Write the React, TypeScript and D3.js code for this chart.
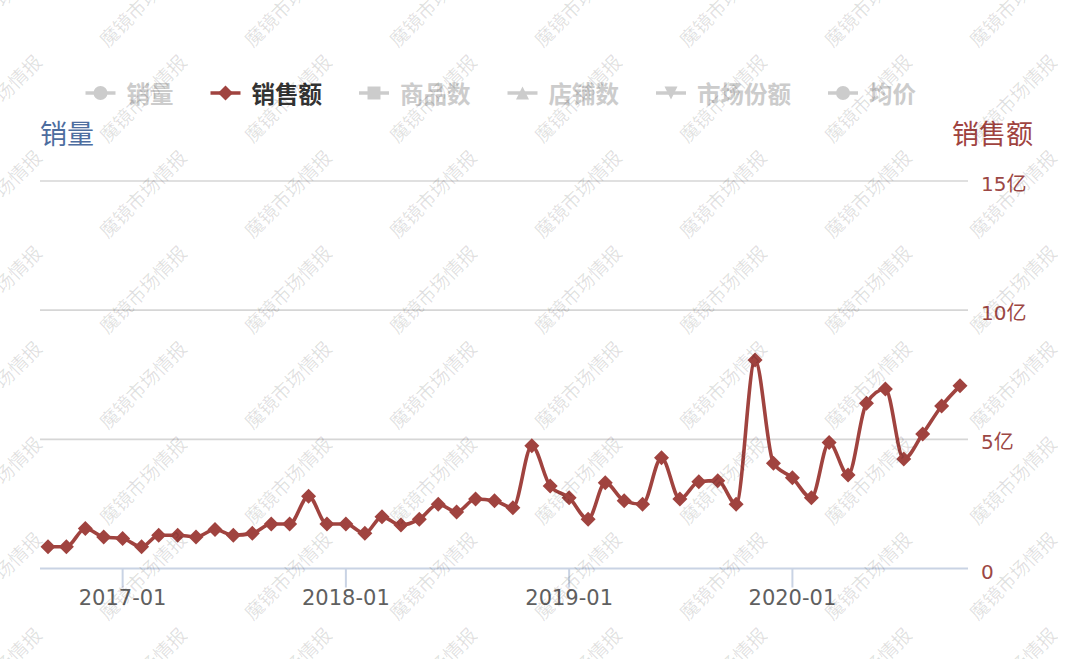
import React from "react";
import * as d3 from "d3";

const months: string[] = [
  "2016-09","2016-10","2016-11","2016-12",
  "2017-01","2017-02","2017-03","2017-04","2017-05","2017-06","2017-07","2017-08","2017-09","2017-10","2017-11","2017-12",
  "2018-01","2018-02","2018-03","2018-04","2018-05","2018-06","2018-07","2018-08","2018-09","2018-10","2018-11","2018-12",
  "2019-01","2019-02","2019-03","2019-04","2019-05","2019-06","2019-07","2019-08","2019-09","2019-10","2019-11","2019-12",
  "2020-01","2020-02","2020-03","2020-04","2020-05","2020-06","2020-07","2020-08","2020-09","2020-10",
];

// 销售额 (亿)
const salesAmount: number[] = [
  0.84, 0.84, 1.55, 1.22,
  1.16, 0.84, 1.29, 1.29, 1.22, 1.51, 1.29, 1.36, 1.72, 1.72, 2.80, 1.72,
  1.72, 1.36, 2.00, 1.68, 1.91, 2.49, 2.19, 2.69, 2.62, 2.35, 4.75, 3.19,
  2.74, 1.91, 3.32, 2.62, 2.49, 4.29, 2.69, 3.36, 3.40, 2.49, 8.07, 4.07,
  3.51, 2.74, 4.88, 3.62, 6.40, 6.95, 4.24, 5.21, 6.29, 7.07,
];

const yTicks: number[] = [0, 5, 10, 15];
const yTickLabels: string[] = ["0", "5亿", "10亿", "15亿"];
const xTickLabels: string[] = ["2017-01", "2018-01", "2019-01", "2020-01"];

const legendNames: string[] = ["销量", "销售额", "商品数", "店铺数", "市场份额", "均价"];
const legendSymbols: string[] = ["circle", "diamond", "square", "triangle", "triangle-down", "circle"];
const legendActive: boolean[] = [false, true, false, false, false, false];

const watermarkText = "魔镜市场情报";

const W = 1080;
const H = 659;
const RED = "#a0433f";
const CJK = "'Noto Sans CJK SC', 'Noto Sans', sans-serif";
const NUM = "'DejaVu Sans', 'Noto Sans CJK SC', sans-serif";

export default function App() {
  const parse = d3.timeParse("%Y-%m");
  const dates = months.map((m) => parse(m) as Date);
  const x = d3
    .scaleTime()
    .domain([dates[0], dates[dates.length - 1]])
    .range([48, 960]);
  const y = d3.scaleLinear().domain([0, 15]).range([568.5, 181]);

  const pts: [number, number][] = dates.map((d, i) => [x(d), y(salesAmount[i])]);
  const line = d3
    .line<[number, number]>()
    .x((p) => p[0])
    .y((p) => p[1])
    .curve(d3.curveMonotoneX);

  const gridLeft = 40;
  const gridRight = 968;

  const diamond = (cx: number, cy: number, r: number) =>
    `M${cx},${cy - r}L${cx + r},${cy}L${cx},${cy + r}L${cx - r},${cy}Z`;

  const symbolPath = (type: string, cx: number, cy: number) => {
    const r = 6.5;
    switch (type) {
      case "diamond":
        return diamond(cx, cy, 7.5);
      case "square":
        return `M${cx - r},${cy - r}h${2 * r}v${2 * r}h${-2 * r}Z`;
      case "triangle":
        return `M${cx},${cy - r}L${cx + r},${cy + r}L${cx - r},${cy + r}Z`;
      case "triangle-down":
        return `M${cx - r},${cy - r}L${cx + r},${cy - r}L${cx},${cy + r}Z`;
      default:
        return d3.arc()({ innerRadius: 0, outerRadius: 7, startAngle: 0, endAngle: 2 * Math.PI }) as string;
    }
  };

  // Legend layout derived from text widths
  const legendY = 93;
  const fontLegend = 23.5;
  let cursor = 85.5;
  const legendItems = legendNames.map((name, i) => {
    const iconX = cursor;
    const textX = iconX + 30 + 11;
    const textW = name.length * fontLegend;
    cursor = textX + textW + 37;
    return { name, iconX, textX, sym: legendSymbols[i], active: legendActive[i] };
  });

  const xTickDates = xTickLabels.map((s) => parse(s) as Date);

  const wmCols = d3.range(-1, 7).map((k) => 142 + 145 * k);
  const wmRows = d3.range(0, 8).map((k) => 2 + 95.5 * k);

  return (
    <div style={{ position: "absolute", left: 0, top: 0 }}>
      <svg width={W} height={H} style={{ display: "block", background: "#fff" }}>
        <rect x={0} y={0} width={W} height={H} fill="#fff" />

        {/* grid lines */}
        {yTicks.slice(1).map((t) => (
          <line key={t} x1={gridLeft} x2={gridRight} y1={y(t)} y2={y(t)} stroke="#d6d6d6" strokeWidth={1.6} />
        ))}
        {/* x axis line */}
        <line x1={gridLeft} x2={gridRight} y1={y(0)} y2={y(0)} stroke="#c9d3e4" strokeWidth={2} />

        {/* x ticks */}
        {xTickDates.map((d, i) => (
          <g key={i}>
            <line x1={x(d)} x2={x(d)} y1={y(0)} y2={y(0) + 19} stroke="#c9d3e4" strokeWidth={2} />
            <text x={x(d)} y={605} textAnchor="middle" fontFamily={NUM} fontSize={21} fill="#606060">
              {xTickLabels[i]}
            </text>
          </g>
        ))}

        {/* y tick labels (right) */}
        {yTicks.map((t, i) => (
          <text key={t} x={981} y={y(t) + 3} dominantBaseline="central" fontFamily={NUM} fontSize={20} fill="#9c4744">
            {yTickLabels[i]}
          </text>
        ))}

        {/* axis titles */}
        <text x={40} y={132} dominantBaseline="central" fontFamily={CJK} fontSize={27} fill="#4d6d9f">
          销量
        </text>
        <text x={1033} y={132} textAnchor="end" dominantBaseline="central" fontFamily={CJK} fontSize={27} fill={RED}>
          销售额
        </text>

        {/* legend */}
        {legendItems.map((it, i) => {
          const c = it.active ? RED : "#cccccc";
          const cx = it.iconX + 15;
          const p = symbolPath(it.sym, cx, legendY);
          return (
            <g key={i}>
              <line x1={it.iconX} x2={it.iconX + 30} y1={legendY} y2={legendY} stroke={c} strokeWidth={3.5} />
              {it.sym === "circle" ? (
                <path d={p} transform={`translate(${cx},${legendY})`} fill={c} />
              ) : (
                <path d={p} fill={c} />
              )}
              <text
                x={it.textX}
                y={legendY}
                dominantBaseline="central"
                fontFamily={CJK}
                fontSize={fontLegend}
                fontWeight="bold"
                fill={it.active ? "#333333" : "#cccccc"}
              >
                {it.name}
              </text>
            </g>
          );
        })}

        {/* series */}
        <path d={line(pts) as string} fill="none" stroke={RED} strokeWidth={3.6} strokeLinejoin="round" />
        {pts.map((p, i) => (
          <path key={i} d={diamond(p[0], p[1], 7.5)} fill={RED} />
        ))}

        {/* watermarks */}
        <g pointerEvents="none">
          {wmRows.map((ry, r) =>
            wmCols.map((cx, c) => (
              <text
                key={`${r}-${c}`}
                x={cx}
                y={ry}
                transform={`rotate(-45 ${cx} ${ry})`}
                textAnchor="middle"
                dominantBaseline="central"
                fontFamily={CJK}
                fontSize={19}
                fill="#000"
                fillOpacity={0.12}
              >
                {watermarkText}
              </text>
            ))
          )}
        </g>
      </svg>
    </div>
  );
}
